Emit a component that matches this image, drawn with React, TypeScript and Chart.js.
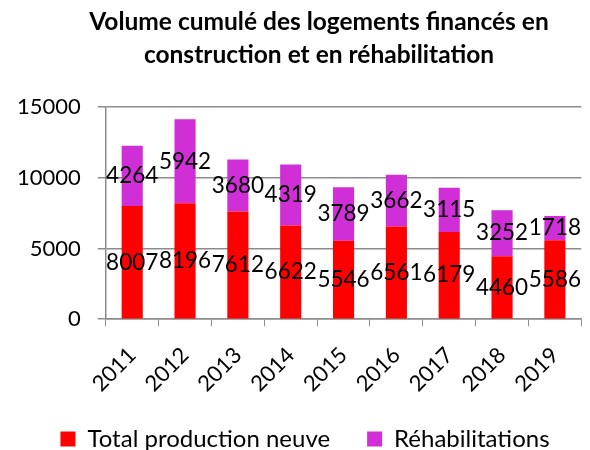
import React, { useEffect, useRef } from "react";
import { Chart, registerables } from "chart.js";

Chart.register(...registerables);

const years = ["2011", "2012", "2013", "2014", "2015", "2016", "2017", "2018", "2019"];
const productionNeuve = [8007, 8196, 7612, 6622, 5546, 6561, 6179, 4460, 5586];
const rehabilitations = [4264, 5942, 3680, 4319, 3789, 3662, 3115, 3252, 1718];
const titleLines = ["Volume cumulé des logements financés en", "construction et en réhabilitation"];
const FONT = "Lato, 'Open Sans', sans-serif";

const labelPlugin = {
  id: "segLabels",
  afterLayout(chart: any) {
    const lg = chart.legend;
    if (lg) {
      lg.left += 14;
      lg.right += 14;
      lg.top -= 23;
      lg.bottom -= 23;
    }
    const t = chart.titleBlock;
    if (t) {
      t.left += 28;
      t.right += 28;
    }
  },
  afterDatasetsDraw(chart: any) {
    const ctx = chart.ctx;
    ctx.save();
    ctx.font = `22.5px ${FONT}`;
    ctx.fillStyle = "#000";
    ctx.textAlign = "center";
    ctx.textBaseline = "middle";
    chart.data.datasets.forEach((ds: any, i: number) => {
      const meta = chart.getDatasetMeta(i);
      meta.data.forEach((el: any, j: number) => {
        const y = (el.y + el.base) / 2;
        ctx.fillText(String(ds.data[j]), el.x, y);
      });
    });
    ctx.restore();
  },
};

export default function App() {
  const ref = useRef<HTMLCanvasElement>(null);
  useEffect(() => {
    const chart = new Chart(ref.current!, {
      type: "bar",
      data: {
        labels: years,
        datasets: [
          { label: "Total production neuve", data: productionNeuve, backgroundColor: "#FF0000", barPercentage: 0.4, categoryPercentage: 1 },
          { label: "Réhabilitations", data: rehabilitations, backgroundColor: "#D02ED6", barPercentage: 0.4, categoryPercentage: 1 },
        ],
      },
      options: {
        responsive: false,
        animation: false,
        layout: { padding: { top: 6, right: 8, left: 0, bottom: -34 } },
        plugins: {
          title: {
            display: true,
            text: titleLines,
            fullSize: true,
            color: "#000",
            font: { family: FONT, size: 24.5, weight: "bold", lineHeight: 1.33 },
            padding: { top: 0, bottom: 36 },
          },
          legend: {
            position: "bottom",
            labels: {
              color: "#000",
              font: { family: FONT, size: 24 },
              boxWidth: 15,
              boxHeight: 15,
              padding: 37,
            },
          },
          tooltip: { enabled: false },
        },
        scales: {
          x: {
            stacked: true,
            grid: { display: true, drawOnChartArea: false, offset: true, color: "#8c8c8c", tickLength: 7 },
            border: { color: "#8c8c8c", width: 1.5 },
            ticks: { color: "#000", font: { family: FONT, size: 22 }, maxRotation: 45, minRotation: 45, padding: 16 },
          },
          y: {
            stacked: true,
            min: 0,
            max: 15000,
            ticks: { stepSize: 5000, color: "#000", font: { family: FONT, size: 22 }, padding: 17, callback: (v: any) => String(v) },
            grid: { color: "#8c8c8c", lineWidth: 1.5, tickLength: 8 },
            border: { color: "#8c8c8c", width: 1.5 },
          },
        },
      },
      plugins: [labelPlugin],
    });
    return () => chart.destroy();
  }, []);
  return (
    <div style={{ position: "fixed", left: 0, top: 0, width: 590, height: 450, background: "#fff" }}>
      <canvas ref={ref} width={590} height={450} />
    </div>
  );
}
